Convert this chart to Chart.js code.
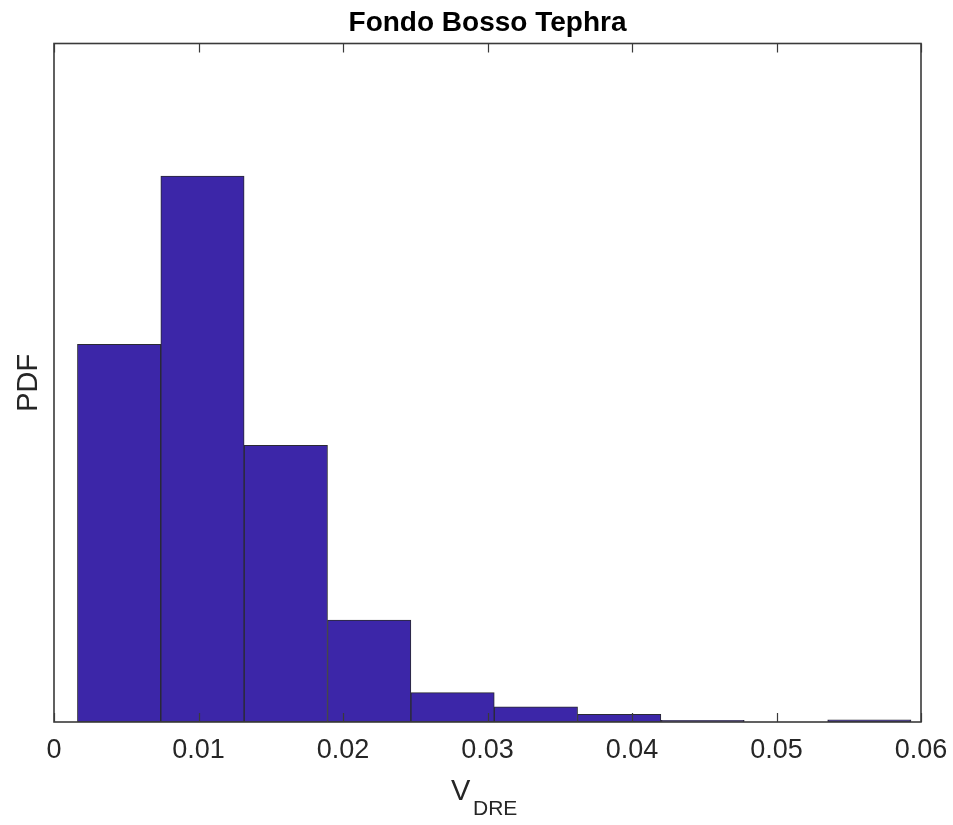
<!DOCTYPE html>
<html>
<head>
<meta charset="utf-8">
<script src="https://cdn.jsdelivr.net/npm/chart.js@4"></script>
<style>
  html, body { margin: 0; padding: 0; background: #fff; }
  #wrap { width: 953px; height: 825px; }
</style>
</head>
<body>
<div id="wrap"><canvas id="histVdre"></canvas></div>
<script>
// histogram bin edges (V_DRE) and the normalised PDF height of each bin
const binEdges = [0.00162, 0.00739, 0.01316, 0.01893, 0.02470, 0.03047, 0.03623, 0.04200, 0.04777, 0.05354, 0.05931]
const pdfValues = [48.19, 69.66, 35.30, 13.01, 3.74, 1.95, 0.98, 0.22, 0, 0.29]
const xTicks = [0, 0.01, 0.02, 0.03, 0.04, 0.05, 0.06]
const yMax = 86.56

const FONT = '"Liberation Sans", Arial, Helvetica, sans-serif'
const AXIS_COLOR = '#262626'

const histData = pdfValues.map((v, i) => ({ x: (binEdges[i] + binEdges[i + 1]) / 2, y: v }))

// white background, box around the axes, inward ticks and the text labels
const matlabAxes = {
    id: 'matlabAxes',
    beforeDraw(chart) {
        const c = chart.ctx
        c.save()
        c.fillStyle = '#fff'
        c.fillRect(0, 0, chart.width, chart.height)
        c.restore()
    },
    afterDraw(chart) {
        const c = chart.ctx
        const a = chart.chartArea
        const xs = chart.scales.x
        c.save()
        c.strokeStyle = '#3a3a3a'
        c.lineWidth = 1.6
        c.strokeRect(a.left, a.top, a.right - a.left, a.bottom - a.top)
        c.lineWidth = 1.2
        xTicks.forEach(t => {
            const px = Math.round(xs.getPixelForValue(t)) + 0.5
            c.beginPath()
            c.moveTo(px, a.bottom)
            c.lineTo(px, a.bottom - 9)
            c.moveTo(px, a.top)
            c.lineTo(px, a.top + 9)
            c.stroke()
        })

        c.fillStyle = '#000'
        c.textAlign = 'center'
        c.textBaseline = 'alphabetic'
        c.font = 'bold 28px ' + FONT
        c.fillText('Fondo Bosso Tephra', (a.left + a.right) / 2, 31)

        c.fillStyle = AXIS_COLOR
        c.translate(36.5, (a.top + a.bottom) / 2)
        c.rotate(-Math.PI / 2)
        c.font = '29px ' + FONT
        c.fillText('PDF', 0, 0)
        c.setTransform(1, 0, 0, 1, 0, 0)

        c.textAlign = 'left'
        c.font = '29px ' + FONT
        c.fillText('V', 451, 800)
        c.font = '21px ' + FONT
        c.fillText('DRE', 473, 815)
        c.restore()
    }
}

var ctx = document.getElementById('histVdre')
var myChart = new Chart(ctx, {
    type: 'bar',
    data: {
        datasets: [{
            data: histData,
            backgroundColor: '#3C26A8',
            borderColor: '#2a2a33',
            borderWidth: 1,
            borderSkipped: false,
            barPercentage: 1,
            categoryPercentage: 1
        }]
    },
    options: {
        responsive: true,
        maintainAspectRatio: false,
        animation: false,
        layout: { padding: { left: 54, right: 32, top: 43.5, bottom: 0 } },
        plugins: {
            legend: { display: false },
            tooltip: { enabled: false },
            title: { display: false }
        },
        scales: {
            x: {
                type: 'linear',
                min: 0,
                max: 0.06,
                offset: false,
                grid: { display: false, drawTicks: false },
                border: { display: false },
                afterBuildTicks: scale => { scale.ticks = xTicks.map(v => ({ value: v })) },
                afterFit: scale => {
                    scale.height = 103
                    // end labels hang into the layout padding, no extra room needed
                    scale.paddingLeft = 0
                    scale.paddingRight = 0
                },
                ticks: {
                    padding: 12,
                    maxRotation: 0,
                    autoSkip: false,
                    color: AXIS_COLOR,
                    font: { family: FONT, size: 27 },
                    callback: v => v === 0 ? '0' : v.toFixed(2)
                }
            },
            y: {
                display: false,
                min: 0,
                max: yMax
            }
        }
    },
    plugins: [matlabAxes]
})
</script>
</body>
</html>
